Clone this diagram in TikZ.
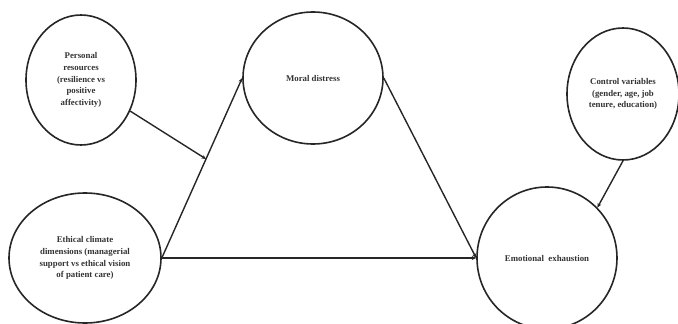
\documentclass[tikz,border=0pt]{standalone}
\usepackage{fontspec}
\setmainfont{Liberation Serif}
\usetikzlibrary{shapes.geometric,arrows.meta}
\begin{document}
\begin{tikzpicture}[x=1pt,y=-1pt,
    construct/.style={ellipse,draw=black!85,line width=1.6pt,inner sep=0pt,
        align=center,text=black!80,font=\bfseries\fontsize{8.8}{11.8}\selectfont},
    path/.style={draw=black!85,line width=1.4pt,-{Stealth[length=4.5pt,width=4pt]}}]
    \useasboundingbox (0,0) rectangle (678,324);

    \node[construct,minimum width=110,minimum height=130] (pers) at (81,80)
        {Personal\\resources\\(resilience vs\\positive\\affectivity)};
    \node[construct,minimum width=152,minimum height=130] (ethic) at (85,258)
        {Ethical climate\\dimensions (managerial\\support vs ethical vision\\of patient care)};
    \node[construct,minimum width=140,minimum height=132] (moral) at (313,78)
        {Moral distress};
    \node[construct,minimum width=112,minimum height=132] (ctrl) at (623,94)
        {Control variables\\(gender, age, job\\tenure, education)};
    \node[construct,minimum width=140,minimum height=142] (exhaust) at (547,258)
        {Emotional\ \ exhaustion};

    \draw[path] (ethic.east) -- coordinate[pos=0.55] (mid) (moral.west);
    \draw[path] (ethic.east) -- (exhaust.west);
    \draw[path] (moral.east) -- (exhaust.west);
    \draw[path] (pers) -- (mid);
    \draw[path] (ctrl.south) -- (exhaust.45);
\end{tikzpicture}
\end{document}
